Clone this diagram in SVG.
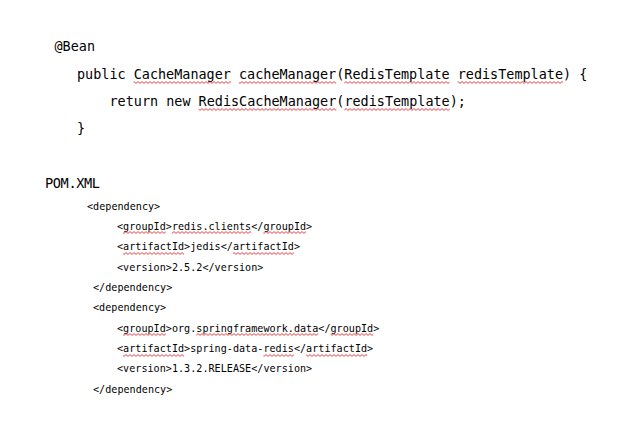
<svg xmlns="http://www.w3.org/2000/svg" width="629" height="426" viewBox="0 0 629 426">
<style>
.big{font-family:"DejaVu Sans Mono","Liberation Mono",monospace;font-size:13.45px;fill:#000}
.sm{font-family:"DejaVu Sans Mono","Liberation Mono",monospace;font-size:10.1px;fill:#000}
.sq{fill:url(#wave)}
</style>
<defs>
<pattern id="wave" patternUnits="userSpaceOnUse" x="0" y="0" width="4" height="3">
<path d="M0,2.4 L2,0.6 L4,2.4" fill="none" stroke="#e81010" stroke-width="0.8"/>
</pattern>
</defs>
<rect width="629" height="426" fill="#fff"/>
<g id="java-code">
<text class="big" x="54.5" y="51" textLength="40.5" lengthAdjust="spacing">@Bean</text>
<text class="big" x="77" y="79" textLength="510.3" lengthAdjust="spacing">public CacheManager cacheManager(RedisTemplate redisTemplate) {</text>
<text class="big" x="109.5" y="106" textLength="356.4" lengthAdjust="spacing">return new RedisCacheManager(redisTemplate);</text>
<text class="big" x="77" y="133">}</text>
<rect class="sq" x="133.7" y="81" width="97.2" height="3"/>
<rect class="sq" x="239" y="81" width="97.2" height="3"/>
<rect class="sq" x="344.3" y="81" width="105.3" height="3"/>
<rect class="sq" x="457.7" y="81" width="105.3" height="3"/>
<rect class="sq" x="198.6" y="108" width="137.7" height="3"/>
<rect class="sq" x="344.4" y="108" width="105.3" height="3"/>
</g>
<g id="pom-xml">
<text class="big" x="45" y="188" style="font-size:13.6px" textLength="55" lengthAdjust="spacing">POM.XML</text>
<text class="sm" x="87" y="210" textLength="73.2" lengthAdjust="spacing">&lt;dependency&gt;</text>
<text class="sm" x="117" y="230" textLength="195.2" lengthAdjust="spacing">&lt;groupId&gt;redis.clients&lt;/groupId&gt;</text>
<text class="sm" x="117" y="250" textLength="183" lengthAdjust="spacing">&lt;artifactId&gt;jedis&lt;/artifactId&gt;</text>
<text class="sm" x="117" y="271" textLength="146.4" lengthAdjust="spacing">&lt;version&gt;2.5.2&lt;/version&gt;</text>
<text class="sm" x="93" y="291" textLength="79.3" lengthAdjust="spacing">&lt;/dependency&gt;</text>
<text class="sm" x="93" y="311" textLength="73.2" lengthAdjust="spacing">&lt;dependency&gt;</text>
<text class="sm" x="117" y="331.5" textLength="262.3" lengthAdjust="spacing">&lt;groupId&gt;org.springframework.data&lt;/groupId&gt;</text>
<text class="sm" x="117" y="352" textLength="256.2" lengthAdjust="spacing">&lt;artifactId&gt;spring-data-redis&lt;/artifactId&gt;</text>
<text class="sm" x="117" y="372" textLength="195.2" lengthAdjust="spacing">&lt;version&gt;1.3.2.RELEASE&lt;/version&gt;</text>
<text class="sm" x="93" y="392.5" textLength="79.3" lengthAdjust="spacing">&lt;/dependency&gt;</text>
<rect class="sq" x="123.1" y="231" width="42.7" height="3"/>
<rect class="sq" x="171.9" y="231" width="79.3" height="3"/>
<rect class="sq" x="263.4" y="231" width="42.7" height="3"/>
<rect class="sq" x="123.1" y="252" width="61" height="3"/>
<rect class="sq" x="232.9" y="252" width="61" height="3"/>
<rect class="sq" x="123.1" y="333" width="42.7" height="3"/>
<rect class="sq" x="196.3" y="333" width="122" height="3"/>
<rect class="sq" x="330.5" y="333" width="42.7" height="3"/>
<rect class="sq" x="123.1" y="354" width="61" height="3"/>
<rect class="sq" x="263.4" y="354" width="30.5" height="3"/>
<rect class="sq" x="306.1" y="354" width="61" height="3"/>
</g>
</svg>
